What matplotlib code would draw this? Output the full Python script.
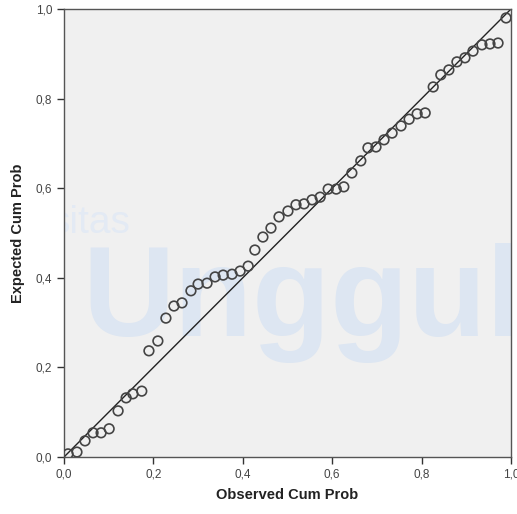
import matplotlib.pyplot as plt
from matplotlib.ticker import FuncFormatter

# observed / expected cumulative probabilities
observed = [0.009, 0.029, 0.047, 0.065, 0.083, 0.101, 0.121, 0.139, 0.154, 0.174,
            0.190, 0.210, 0.228, 0.246, 0.264, 0.284, 0.300, 0.320, 0.338, 0.356,
            0.376, 0.394, 0.412, 0.427, 0.445, 0.463, 0.481, 0.501, 0.519, 0.537,
            0.555, 0.573, 0.591, 0.609, 0.626, 0.644, 0.664, 0.680, 0.698, 0.716,
            0.734, 0.754, 0.772, 0.790, 0.808, 0.826, 0.843, 0.861, 0.879, 0.897,
            0.915, 0.935, 0.953, 0.971, 0.989]
expected = [0.007, 0.011, 0.036, 0.054, 0.054, 0.063, 0.103, 0.132, 0.141, 0.147,
            0.237, 0.259, 0.310, 0.337, 0.344, 0.371, 0.386, 0.388, 0.402, 0.406,
            0.408, 0.415, 0.426, 0.462, 0.491, 0.511, 0.536, 0.549, 0.563, 0.565,
            0.574, 0.580, 0.598, 0.598, 0.603, 0.634, 0.661, 0.690, 0.692, 0.708,
            0.723, 0.739, 0.754, 0.766, 0.768, 0.826, 0.853, 0.864, 0.882, 0.891,
            0.906, 0.920, 0.922, 0.924, 0.980]
ticks = [0.0, 0.2, 0.4, 0.6, 0.8, 1.0]

plt.rcParams['font.family'] = ['Liberation Sans', 'DejaVu Sans']

fig = plt.figure(figsize=(5.17, 5.14), dpi=100)
ax = fig.add_axes([64 / 517, 1 - 457 / 514, 447 / 517, 448 / 514])
ax.set_facecolor('#f0f0f0')

# faint watermark behind the data
ax.text(0.04, 0.27, 'Unggul', transform=ax.transAxes, fontsize=92, fontweight='bold',
        color='#dde6f2', zorder=0, clip_on=True)
ax.text(-0.03, 0.5, 'sitas', transform=ax.transAxes, fontsize=28,
        color='#e3eaf4', zorder=0, clip_on=True)

ax.plot([0, 1], [0, 1], color='#222222', lw=1.0, zorder=2)
ax.scatter(observed, expected, s=48, facecolors='none', edgecolors='#444444',
           linewidths=1.2, zorder=3)

ax.set_xlim(0, 1)
ax.set_ylim(0, 1)
ax.set_xticks(ticks)
ax.set_yticks(ticks)
fmt = FuncFormatter(lambda v, p: f'{v:.1f}'.replace('.', ','))
ax.xaxis.set_major_formatter(fmt)
ax.yaxis.set_major_formatter(fmt)
ax.tick_params(direction='out', length=5, width=1, colors='#333333',
               labelsize=8.5, labelcolor='#444444')
for s in ax.spines.values():
    s.set_color('#555555')
    s.set_linewidth(1.0)

ax.set_xlabel('Observed Cum Prob', fontsize=10.5, fontweight='bold', color='#222222', labelpad=5)
ax.set_ylabel('Expected Cum Prob', fontsize=10.5, fontweight='bold', color='#222222', labelpad=8)

fig.savefig('out.png', dpi=100)
